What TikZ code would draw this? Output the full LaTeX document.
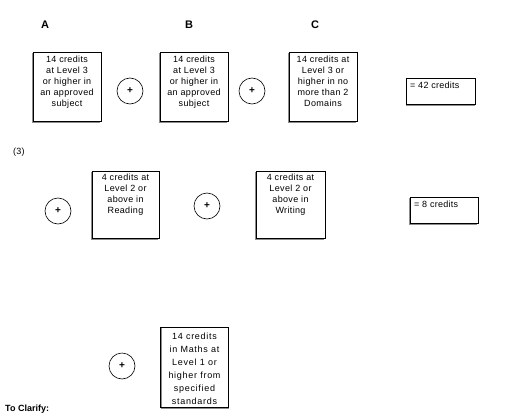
\documentclass[tikz,border=0pt]{standalone}
\usepackage{fontspec}
\setmainfont{Liberation Sans}
\begin{document}
\begin{tikzpicture}[x=1pt,y=-1pt,
  frame/.style={draw=black, line width=0.8pt, inner sep=0pt},
  shade/.style={draw=black!45, line width=0.8pt},
  boxtext/.style={anchor=north, align=center, font=\fontsize{9}{11}\selectfont\addfontfeatures{LetterSpace=4}, inner sep=0pt},
  wide/.style={anchor=north, align=center, font=\fontsize{9}{13}\selectfont\addfontfeatures{LetterSpace=8}, inner sep=0pt},
  plus/.style={draw=black, line width=0.6pt, circle, minimum size=26pt, inner sep=0pt, font=\fontsize{10}{10}\selectfont\bfseries},
  head/.style={font=\fontsize{11}{11}\selectfont\bfseries, inner sep=0pt},
  plain/.style={font=\fontsize{9}{11}\selectfont\addfontfeatures{LetterSpace=3}, inner sep=0pt}]
\useasboundingbox (0,0) rectangle (526,417);
% headings
\node[head] (hA) at (45,25) {A};
\node[head] (hB) at (189,25) {B};
\node[head] (hC) at (315,25) {C};
% row 1
\draw[shade] (32,53) -- (32,122) -- (100,122);
\node[frame, minimum width=68pt, minimum height=69pt] (A) at (67,86.5) {};
\node[boxtext] (At) at (67,56) {14 credits\\at Level 3\\or higher in\\an approved\\subject};
\node[plus] (p1) at (130,91) {+};
\draw[shade] (159,53) -- (159,122) -- (227,122);
\node[frame, minimum width=68pt, minimum height=69pt] (B) at (194,86.5) {};
\node[boxtext] (Bt) at (194,56) {14 credits\\at Level 3\\or higher in\\an approved\\subject};
\node[plus] (p2) at (252,91) {+};
\draw[shade] (288,53) -- (288,122) -- (356,122);
\node[frame, minimum width=68pt, minimum height=69pt] (C) at (323,86.5) {};
\node[boxtext] (Ct) at (323,56) {14 credits at\\Level 3 or\\higher in no\\more than 2\\Domains};
\draw[shade] (406,79) -- (406,105) -- (475,105);
\node[frame, minimum width=69pt, minimum height=26pt] (S1) at (441,91) {};
\node[plain, anchor=north west] (S1t) at (410,82) {= 42 credits};
% (3)
\node[plain, anchor=west] (n3) at (13,152) {(3)};
% row 2
\node[plus] (p3) at (58,211) {+};
\draw[shade] (91,172) -- (91,239) -- (158,239);
\node[frame, minimum width=67pt, minimum height=67pt] (R) at (125.5,204.5) {};
\node[boxtext] (Rt) at (125.5,174) {4 credits at\\Level 2 or\\above in\\Reading};
\node[plus] (p4) at (207,206) {+};
\draw[shade] (255,172) -- (255,239) -- (324,239);
\node[frame, minimum width=69pt, minimum height=67pt] (W) at (290.5,204.5) {};
\node[boxtext] (Wt) at (290.5,174) {4 credits at\\Level 2 or\\above in\\Writing};
\draw[shade] (409,198) -- (409,224) -- (477,224);
\node[frame, minimum width=68pt, minimum height=26pt] (S2) at (444,210) {};
\node[plain, anchor=north west] (S2t) at (414,201) {= 8 credits};
% row 3
\node[plus] (p5) at (122,366) {+};
\draw[shade] (161,328) -- (161,408) -- (229,408);
\node[frame, minimum width=68pt, minimum height=80pt] (M) at (194.5,367) {};
\node[wide] (Mt) at (194.5,333) {14 credits\\in Maths at\\Level 1 or\\higher from\\specified\\standards};
% bottom text
\node[font=\fontsize{9}{11}\selectfont\bfseries, anchor=north west, inner sep=0pt] (tc) at (5,405) {To Clarify:};
\end{tikzpicture}
\end{document}
